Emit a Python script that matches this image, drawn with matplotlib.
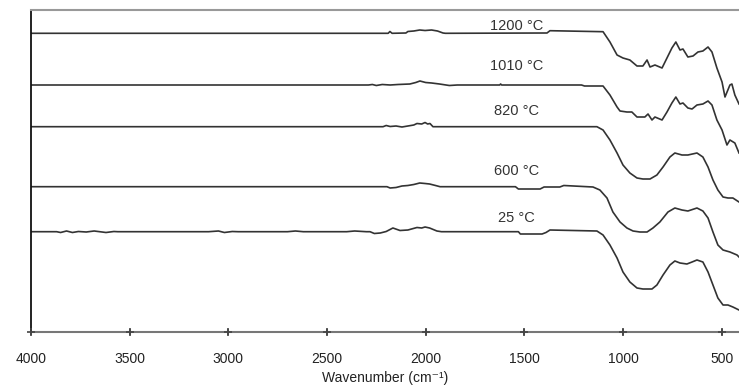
import matplotlib
matplotlib.use("Agg")
import matplotlib.pyplot as plt

plt.rcParams['font.family'] = ['Liberation Sans', 'DejaVu Sans']

# Wavenumber (cm-1) and signal (arbitrary units, offset stacked)
wn_1200 = [4000, 2190, 2181, 2170, 2100, 2090, 2060, 2030, 2003, 1970, 1940, 1912, 1900, 1385, 1370,
           1101, 1066, 1030, 1000, 965, 929, 899, 878, 863, 838, 802, 777, 752, 732, 711, 696, 671,
           645, 620, 595, 569, 549, 524, 498, 483, 458, 448, 433, 412]
y_1200 = [298.7, 298.7, 300.5, 298.7, 299, 300.5, 301, 302, 301.5, 302, 301, 299, 298.7, 299, 301.3,
          300.3, 290, 277, 274, 272, 266, 266, 272, 265, 267, 264, 274, 284, 290, 282, 283, 275,
          276, 280, 281, 285, 280, 264, 250, 235, 247, 248, 237, 228]

wn_1010 = [4000, 2290, 2270, 2250, 2220, 2180, 2140, 2080, 2050, 2029, 2000, 1970, 1930, 1880, 1840,
           1823, 1625, 1620, 1615, 1210, 1195, 1101, 1066, 1030, 1015, 980, 955, 929, 889, 873,
           853, 838, 802, 777, 752, 732, 711, 696, 671, 650, 625, 595, 569, 549, 524, 498, 473,
           458, 433, 412]
y_1010 = [247, 247, 247.5, 246.5, 247.5, 247, 247.5, 248, 249.5, 251, 249.5, 249, 248, 246.5, 247,
          247, 247, 248, 247, 247, 246, 246, 237, 225, 221, 220, 220, 215, 215, 218,
          212, 215, 212, 220, 229, 235, 228, 229, 224, 223, 227, 228, 231, 227, 212, 202, 187,
          192, 189, 179]

wn_820 = [4000, 2216, 2200, 2180, 2150, 2120, 2090, 2060, 2044, 2020, 2003, 1990, 1978, 1963, 1132,
          1101, 1066, 1030, 1000, 965, 929, 899, 863, 828, 797, 762, 737, 701, 671, 625, 595,
          569, 544, 519, 493, 468, 443, 412]
y_820 = [205.3, 205.3, 206.5, 205.5, 206, 205, 206, 207, 208.5, 208, 209.5, 208, 208.5, 205.3, 205.3,
         202, 192, 179, 167, 159, 154, 153, 153, 157, 165, 175, 179, 177, 177, 179, 175,
         165, 152, 142, 135, 134, 134, 130]

wn_600 = [4000, 2196, 2180, 2150, 2120, 2090, 2060, 2030, 2003, 1980, 1950, 1927, 1545, 1530, 1420,
          1400, 1320, 1300, 1152, 1117, 1081, 1051, 1015, 980, 949, 914, 878, 848, 813, 772,
          737, 701, 671, 625, 595, 569, 544, 519, 493, 458, 422, 412]
y_600 = [145.3, 145.3, 144, 144.5, 146, 146.5, 147.5, 149, 148.5, 148, 146.5, 145.3, 145.3, 143, 143,
         145, 145, 146.5, 145, 142, 134, 120, 110, 104, 101, 100, 100, 104, 110, 120,
         124, 122, 121, 124, 121, 114, 100, 87, 82, 80, 77, 75]

wn_25 = [4000, 3870, 3850, 3820, 3790, 3760, 3720, 3680, 3620, 3580, 3560, 3100, 3050, 3020, 2980,
         2950, 2700, 2660, 2620, 2400, 2360, 2300, 2282, 2260, 2230, 2200, 2166, 2130, 2090, 2044,
         2020, 2003, 1980, 1943, 1920, 1530, 1520, 1410, 1390, 1370, 1132, 1101, 1066, 1030, 1000,
         965, 929, 899, 853, 828, 797, 762, 737, 711, 676, 650, 625, 595, 569, 544, 519, 493,
         468, 443, 412]
y_25 = [100.3, 100.3, 99.5, 101, 99.5, 100.5, 100, 101, 99.5, 100.5, 100.3, 100.3, 101, 99.5, 100.5,
        100.3, 100.3, 101, 100.3, 100.3, 101, 100.3, 100.3, 98.5, 99, 100.5, 104, 101.5, 102, 104.5,
        104, 105, 104, 101, 100.3, 100.3, 98, 98, 99.5, 102, 101, 97, 87, 74, 60,
        50, 44, 43, 43, 47, 57, 67, 71, 69, 68, 70, 72, 70, 60, 47, 34, 27,
        27, 25, 22]

labels = ["1200 \u00b0C", "1010 \u00b0C", "820 \u00b0C", "600 \u00b0C", "25 \u00b0C"]
label_y = [306.5, 266, 221, 161.5, 114]
label_x = 1540

x_ticks = [4000, 3500, 3000, 2500, 2000, 1500, 1000, 500]

fig = plt.figure(figsize=(7.39, 3.87), dpi=100)
ax = fig.add_axes([31 / 739, 1 - 332 / 387, 1 - 31 / 739, (332 - 10) / 387])

series = [(wn_1200, y_1200), (wn_1010, y_1010), (wn_820, y_820), (wn_600, y_600), (wn_25, y_25)]
for wn, yy in series:
    ax.plot(wn, yy, color='#333333', lw=1.2, solid_joinstyle='round')

for lab, ly in zip(labels, label_y):
    ax.text(label_x, ly, lab, ha='center', va='center', fontsize=10.5, color='#333333')

ax.set_xlim(4000, 412)
ax.set_ylim(0, 322)
ax.set_xticks(x_ticks)
ax.set_xticklabels([str(t) for t in x_ticks], fontsize=10, color='#222222')
ax.set_yticks([])
ax.tick_params(axis='x', direction='inout', length=4.5, width=1.2, color='#444444', pad=12.5)
# '+' shaped tick marks like the original
ax.plot(x_ticks, [0] * len(x_ticks), linestyle='none', marker='+', ms=6, mew=1.2,
        color='#444444', clip_on=False, zorder=5)
ax.set_xlabel("Wavenumber (cm\u207b\u00b9)", fontsize=10, labelpad=3, color='#222222')

ax.spines['right'].set_visible(False)
ax.spines['top'].set_color('#999999')
ax.spines['top'].set_linewidth(1.5)
ax.spines['bottom'].set_color('#777777')
ax.spines['bottom'].set_linewidth(1.5)
ax.spines['left'].set_color('#111111')
ax.spines['left'].set_linewidth(1.3)

fig.savefig("out.png", dpi=100)
